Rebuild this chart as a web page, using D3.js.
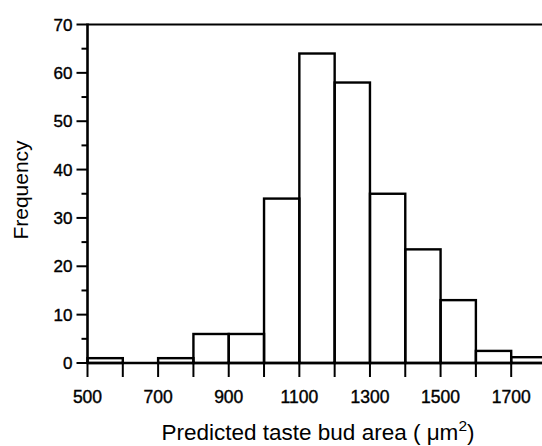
<!DOCTYPE html>
<html><head><meta charset="utf-8">
<script src="https://cdn.jsdelivr.net/npm/d3@7/dist/d3.min.js"></script>
<style>body{margin:0;background:#fff}svg{display:block}</style>
</head><body><svg id="c" width="542" height="446"></svg>
<script>
const binStarts = [500,600,700,800,900,1000,1100,1200,1300,1400,1500,1600,1700];
const binWidth = 100;
const frequencies = [1,0,1,6,6,34,64,58,35,23.5,13,2.5,1.2];
const yTicks = [0,10,20,30,40,50,60,70];
const xTickLabels = [500,700,900,1100,1300,1500,1700];

const svg = d3.select("#c");
const x = d3.scaleLinear().domain([500,1800]).range([87.5,546.5]);
const y = d3.scaleLinear().domain([0,70]).range([363,24.5]);
const font = "'Liberation Sans', Arial, sans-serif";

// bars
svg.append("g").selectAll("rect").data(binStarts.map((s,i)=>({s,v:frequencies[i]})).filter(d=>d.v>0))
  .enter().append("rect")
  .attr("x", d=>x(d.s)).attr("width", d=>x(d.s+binWidth)-x(d.s))
  .attr("y", d=>y(d.v)).attr("height", d=>y(0)-y(d.v))
  .attr("fill","none").attr("stroke","#000").attr("stroke-width",2.4);

// top border
svg.append("line").attr("x1",x(500)).attr("x2",542).attr("y1",y(70)).attr("y2",y(70))
  .attr("stroke","#000").attr("stroke-width",2.2);

// y axis
const gy = svg.append("g").attr("transform",`translate(${x(500)},0)`);
gy.append("line").attr("x1",0).attr("x2",0).attr("y1",y(70)-1).attr("y2",y(0)+1).attr("stroke","#000").attr("stroke-width",2.6);
gy.selectAll(".t").data(d3.range(0,71,5)).enter().append("line")
  .attr("x1", d=> d%10===0 ? -11 : -6).attr("x2",0)
  .attr("y1", d=>y(d)).attr("y2", d=>y(d)).attr("stroke","#000").attr("stroke-width",2);
gy.selectAll(".l").data(yTicks).enter().append("text")
  .attr("x",-15).attr("y", d=>y(d)).attr("dy","0.36em").attr("text-anchor","end")
  .attr("font-family",font).attr("font-size",17).attr("stroke","#000").attr("stroke-width",0.4).text(d=>d);

// x axis
const gx = svg.append("g").attr("transform",`translate(0,${y(0)})`);
gx.append("line").attr("x1",x(500)).attr("x2",542).attr("y1",0).attr("y2",0).attr("stroke","#000").attr("stroke-width",2.4);
gx.selectAll(".t").data(d3.range(500,1801,100)).enter().append("line")
  .attr("x1", d=>x(d)).attr("x2", d=>x(d)).attr("y1",-2).attr("y2",14)
  .attr("stroke","#000").attr("stroke-width",2);
gx.selectAll(".l").data(xTickLabels).enter().append("text")
  .attr("x", d=>x(d)).attr("y",40).attr("text-anchor","middle")
  .attr("font-family",font).attr("font-size",17.5).attr("stroke","#000").attr("stroke-width",0.4).text(d=>d);

// axis titles
svg.append("text").attr("transform","translate(28,190) rotate(-90)").attr("text-anchor","middle")
  .attr("font-family",font).attr("font-size",21).text("Frequency");
const xt = svg.append("text").attr("x",318).attr("y",440).attr("text-anchor","middle")
  .attr("font-family",font).attr("font-size",22.5);
xt.append("tspan").text("Predicted taste bud area ( μm");
xt.append("tspan").attr("font-size",15.5).attr("dy",-9).text("2");
xt.append("tspan").attr("dy",9).text(")");
</script></body></html>
